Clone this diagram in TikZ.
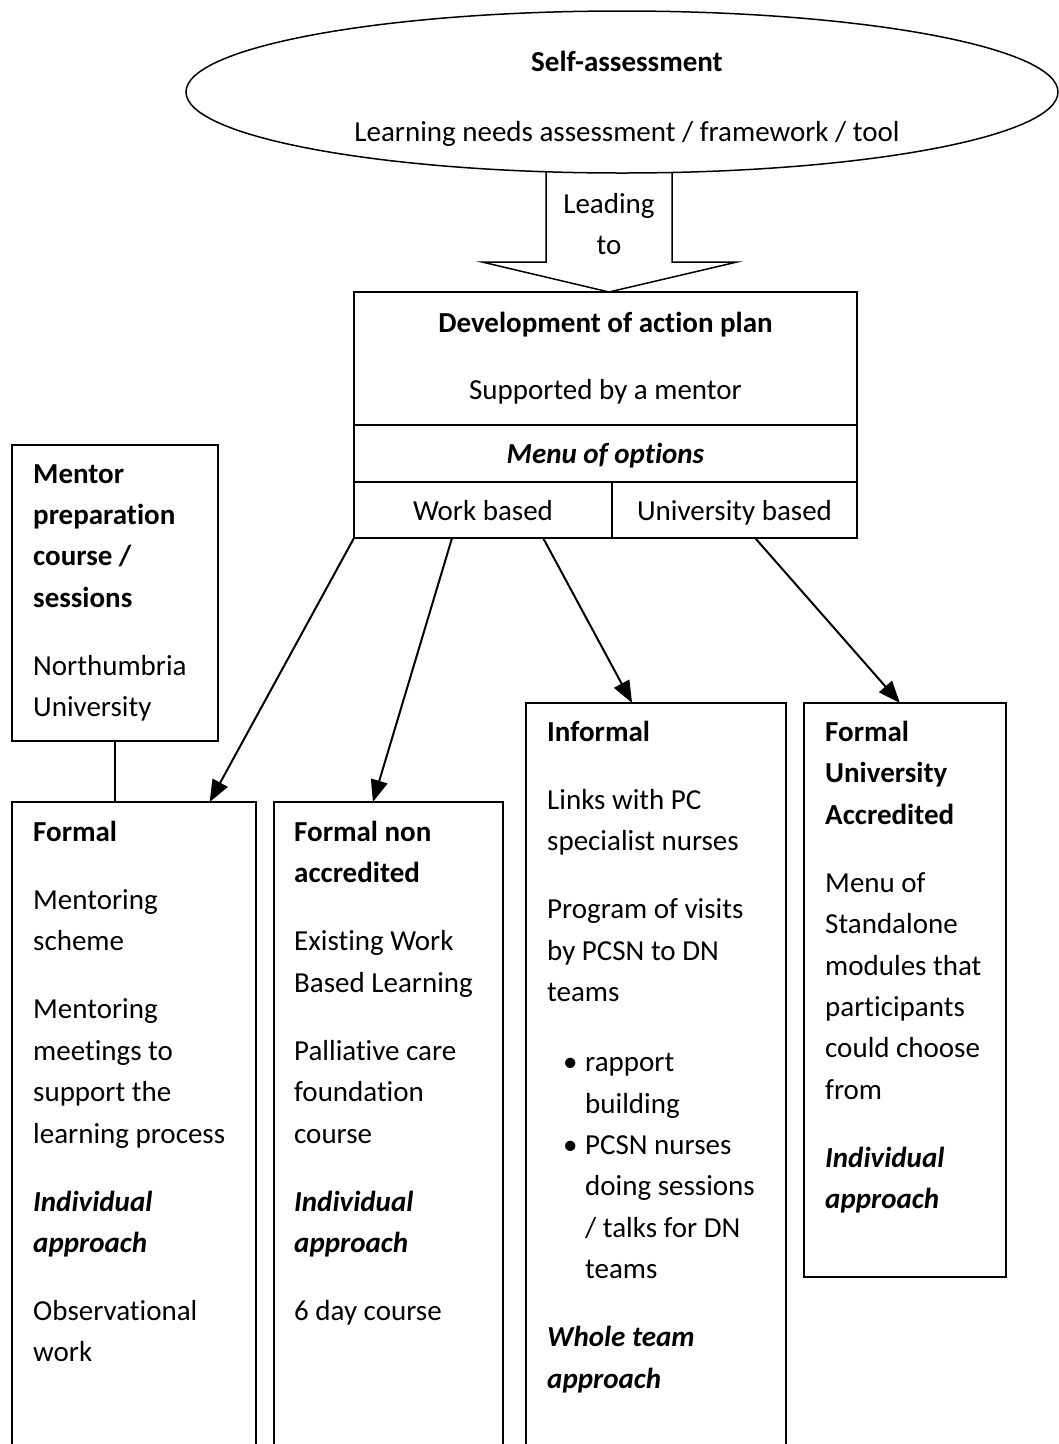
\documentclass[tikz,border=0pt]{standalone}
\usepackage{fontspec}
\setmainfont{Carlito}[Ligatures={NoCommon}]
\usetikzlibrary{shapes.geometric,arrows.meta,positioning,calc}
\newcommand{\bodysize}{\fontsize{29}{41.4}\selectfont}
\newcommand{\gap}{\\[26.6pt]}
\newcommand{\bulletline}[1]{\hspace*{16pt}\makebox[22pt][l]{\textbullet}#1}
\newcommand{\bulletcont}[1]{\hspace*{38pt}#1}

\begin{document}
\begin{tikzpicture}[x=1pt,y=-1pt,
  frame/.style={draw, line width=1.5pt, inner sep=0pt, outer sep=0pt, anchor=north west},
  cell/.style={frame, font=\bodysize, align=center, text height=20pt, text depth=0pt},
  txt/.style={anchor=north west, inner sep=0pt, align=left, font=\bodysize},
  arr/.style={-{Triangle[length=22pt,width=17pt]}, line width=2pt}
]
\useasboundingbox (0,0) rectangle (1059,1444);
\clip (0,0) rectangle (1059,1444);

% self-assessment at the top
\node[draw, ellipse, line width=1.5pt, minimum width=872pt, minimum height=162pt,
  inner sep=0pt] (self) at (622,92) {};
\node[font=\bodysize, align=center, inner sep=0pt] (selftxt) at (627,99)
  {\textbf{Self-assessment}\\[28.6pt]Learning needs assessment / framework / tool};

% block arrow down to the plan
\draw[line width=1.5pt] (546,172) -- (546,262) -- (482,262) -- (609,292)
  -- (737,262) -- (672,262) -- (672,172);
\node[font=\bodysize, align=center, inner sep=0pt] (lead) at (609,224) {Leading\\to};

% action plan, split into rows
\node[frame, font=\bodysize, align=center, minimum width=503pt, minimum height=133pt] (plan) at (354,292)
  {\textbf{Development of action plan}\\[25.6pt]Supported by a mentor};
\node[cell, minimum width=503pt, minimum height=57pt] (menu) at (354,425)
  {\textbf{\textit{Menu of options}}};
\node[cell, minimum width=258pt, minimum height=56pt] (work) at (354,482) {Work based};
\node[cell, minimum width=245pt, minimum height=56pt] (uni) at (612,482) {University based};

% option boxes -- the three left ones run off the page bottom
\node[frame, minimum width=206pt, minimum height=296pt] (mentor) at (12,445) {};
\node[frame, minimum width=244pt, minimum height=660pt] (formal) at (12,802) {};
\node[frame, minimum width=229pt, minimum height=660pt] (fna) at (274,802) {};
\node[frame, minimum width=260pt, minimum height=760pt] (informal) at (526,703) {};
\node[frame, minimum width=202pt, minimum height=574pt] (fua) at (804,703) {};

% box texts
\node[txt] (mentortxt) at (33,464) {\textbf{Mentor}\\\textbf{preparation}\\\textbf{course /}\\\textbf{sessions}\gap
  Northumbria\\University};
\node[txt] (formaltxt) at (33,821) {\textbf{Formal}\gap
  Mentoring\\scheme\gap
  Mentoring\\meetings to\\support the\\learning process\gap
  \textbf{\textit{Individual}}\\\textbf{\textit{approach}}\gap
  Observational\\work};
\node[txt] (fnatxt) at (294,821) {\textbf{Formal non}\\\textbf{accredited}\gap
  Existing Work\\Based Learning\gap
  Palliative care\\foundation\\course\gap
  \textbf{\textit{Individual}}\\\textbf{\textit{approach}}\gap
  6 day course};
\node[txt] (informaltxt) at (547,721) {\textbf{Informal}\gap
  Links with PC\\specialist nurses\gap
  Program of visits\\by PCSN to DN\\teams\\[28.6pt]
  \bulletline{rapport}\\\bulletcont{building}\\
  \bulletline{PCSN nurses}\\\bulletcont{doing sessions}\\\bulletcont{/ talks for DN}\\\bulletcont{teams}\gap
  \textbf{\textit{Whole team}}\\\textbf{\textit{approach}}};
\node[txt] (fuatxt) at (825,721) {\textbf{Formal}\\\textbf{University}\\\textbf{Accredited}\gap
  Menu of\\Standalone\\modules that\\participants\\could choose\\from\gap
  \textbf{\textit{Individual}}\\\textbf{\textit{approach}}};

% connectors
\draw[line width=1.5pt] (mentor.south) -- (mentor.south |- formal.north);
\draw[arr] (work.south west) -- ($(formal.north west)!0.81!(formal.north east)$);
\draw[arr] ($(work.south west)!0.38!(work.south east)$) -- ($(fna.north west)!0.432!(fna.north east)$);
\draw[arr] ($(work.south west)!0.733!(work.south east)$) -- ($(informal.north west)!0.408!(informal.north east)$);
\draw[arr] ($(uni.south west)!0.584!(uni.south east)$) -- ($(fua.north west)!0.475!(fua.north east)$);
\end{tikzpicture}
\end{document}
